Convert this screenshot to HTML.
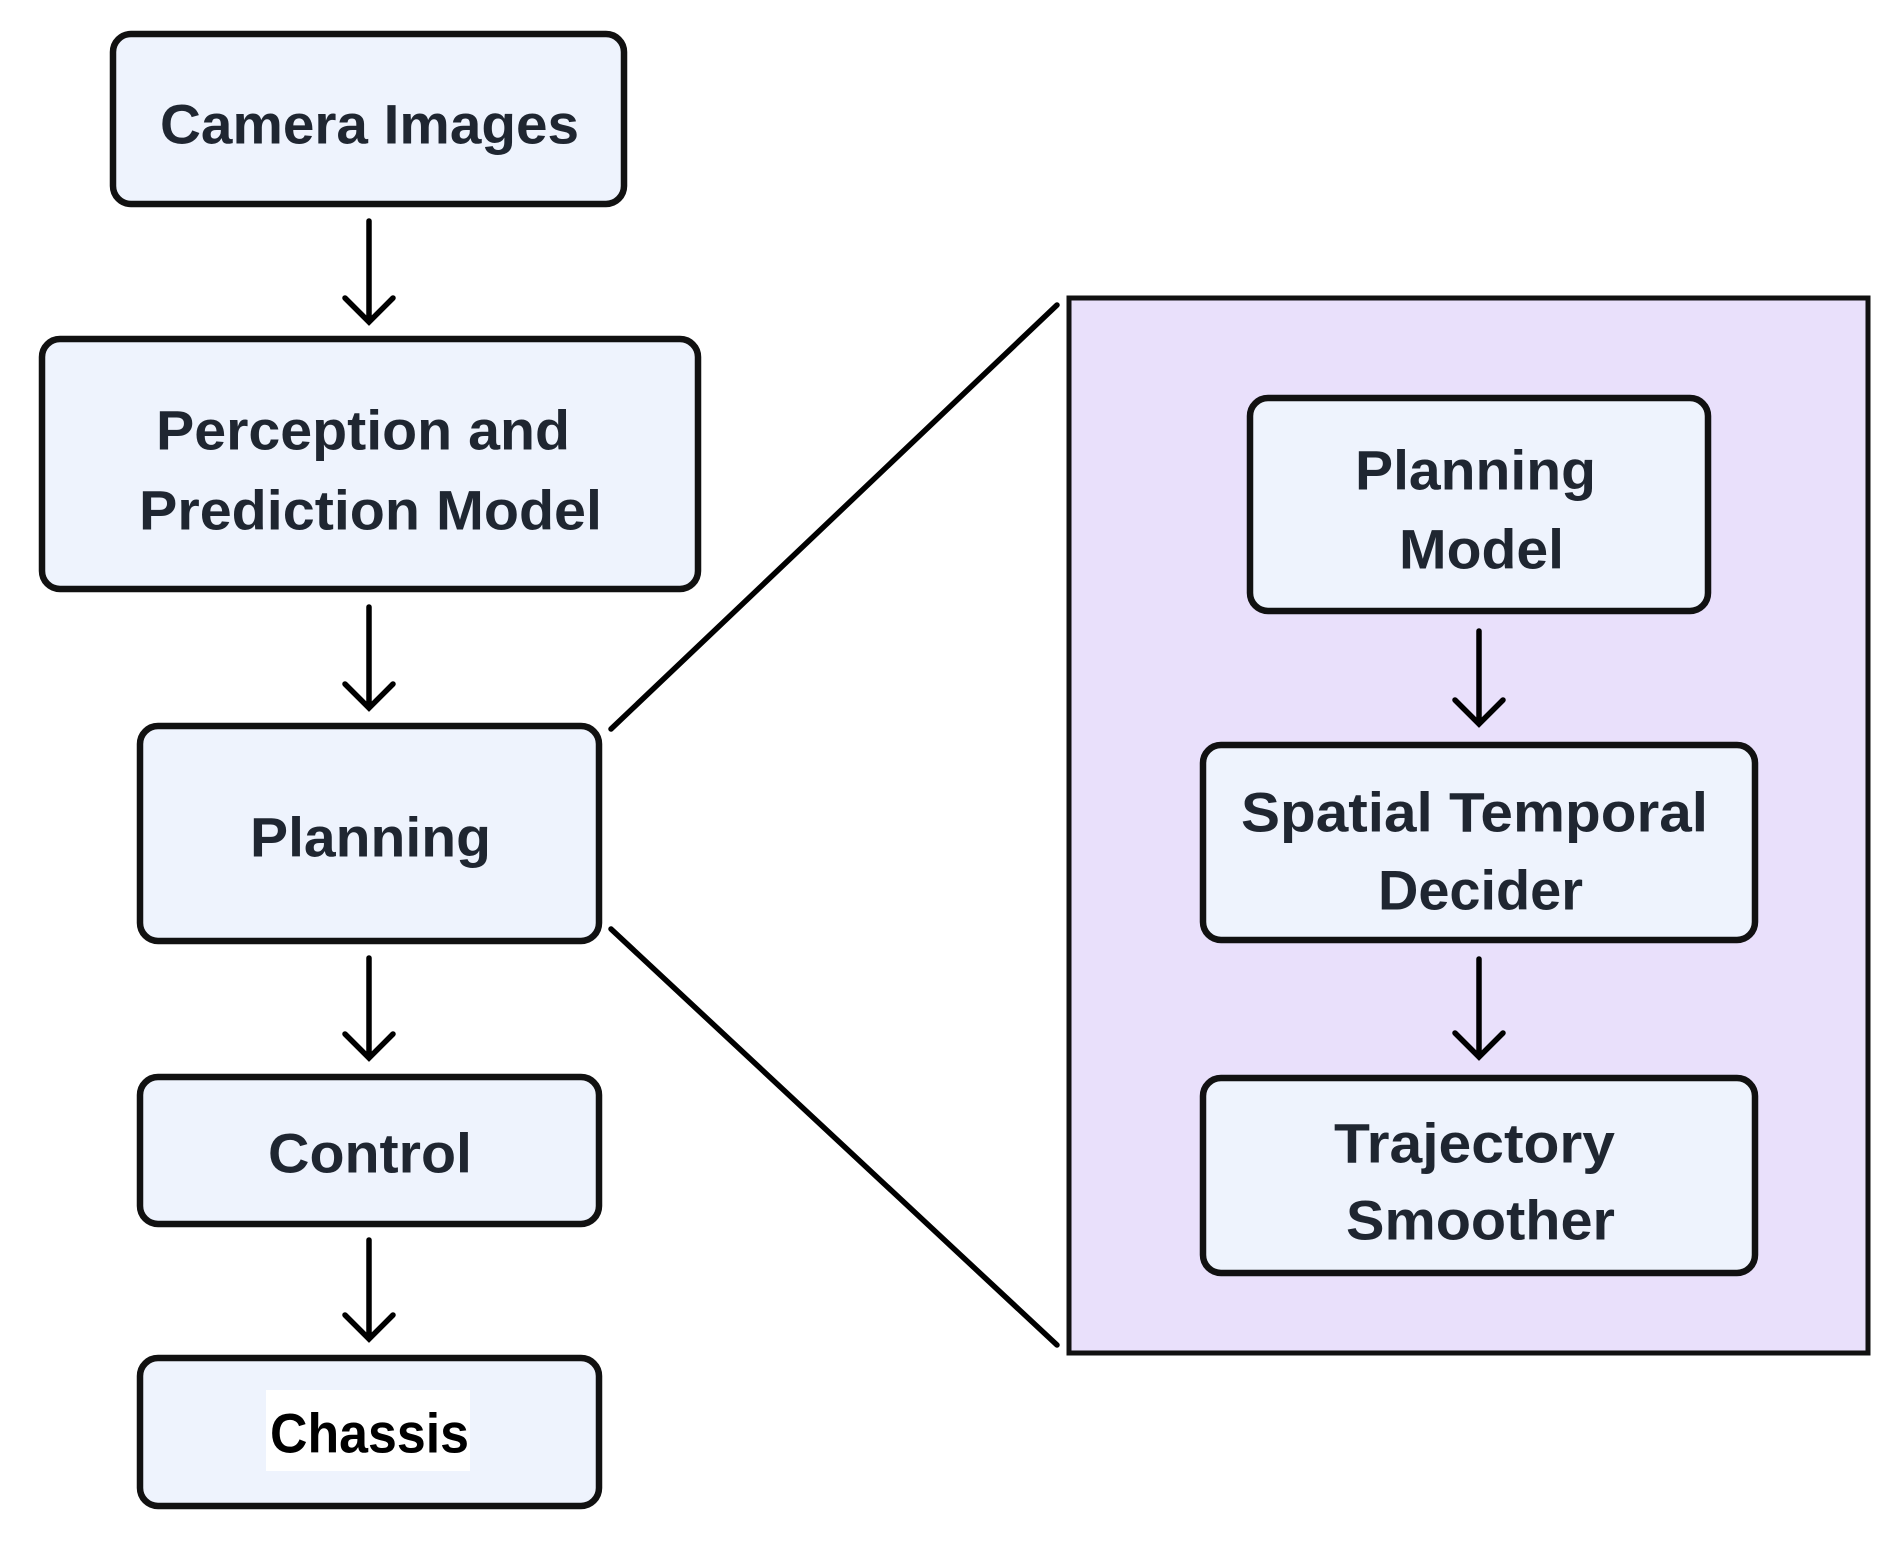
<!DOCTYPE html>
<html><head><meta charset="utf-8"><style>html,body{margin:0;padding:0;background:#fff}</style></head>
<body>
<svg width="1891" height="1539" viewBox="0 0 1891 1539" xmlns="http://www.w3.org/2000/svg">
<g font-family="Liberation Sans, sans-serif" font-weight="bold" font-size="56" fill="#1f2631">
<rect x="1069" y="298" width="799" height="1055" fill="#e9e0fb" stroke="#111" stroke-width="5"/>
<g stroke="#000" stroke-width="5.5" fill="none" stroke-linecap="round">
<line x1="611" y1="729" x2="1057" y2="305"/>
<line x1="611" y1="929" x2="1057" y2="1345"/>
<path d="M369 221V322M345 298L369 322L393 298"/>
<path d="M369 607V708M345 684L369 708L393 684"/>
<path d="M369 958V1058M345 1034L369 1058L393 1034"/>
<path d="M369 1240V1339M345 1315L369 1339L393 1315"/>
<path d="M1479 631V724M1455 700L1479 724L1503 700"/>
<path d="M1479 959V1057M1455 1033L1479 1057L1503 1033"/>
</g>
<g fill="#eef3fd" stroke="#111" stroke-width="6.5">
<rect x="113" y="34" width="511" height="170" rx="18"/>
<rect x="42" y="339" width="656" height="250" rx="18"/>
<rect x="140" y="726" width="459" height="215" rx="18"/>
<rect x="140" y="1077" width="459" height="147" rx="18"/>
<rect x="140" y="1358" width="459" height="148" rx="18"/>
<rect x="1250" y="398" width="458" height="213" rx="18"/>
<rect x="1203" y="745" width="552" height="195" rx="18"/>
<rect x="1203" y="1078" width="552" height="195" rx="18"/>
</g>
<rect x="266" y="1390" width="204" height="81" fill="#fff"/>
<g dominant-baseline="central">
<text x="160" y="124" textLength="419" lengthAdjust="spacingAndGlyphs">Camera Images</text>
<text x="156" y="430" textLength="414" lengthAdjust="spacingAndGlyphs">Perception and</text>
<text x="139" y="510" textLength="463" lengthAdjust="spacingAndGlyphs">Prediction Model</text>
<text x="250" y="837" textLength="241" lengthAdjust="spacingAndGlyphs">Planning</text>
<text x="268" y="1153" textLength="204" lengthAdjust="spacingAndGlyphs">Control</text>
<text x="270" y="1433" textLength="199" lengthAdjust="spacingAndGlyphs" fill="#000">Chassis</text>
<text x="1355" y="470" textLength="241" lengthAdjust="spacingAndGlyphs">Planning</text>
<text x="1399" y="549" textLength="165" lengthAdjust="spacingAndGlyphs">Model</text>
<text x="1241" y="812" textLength="467" lengthAdjust="spacingAndGlyphs">Spatial Temporal</text>
<text x="1378" y="890" textLength="205" lengthAdjust="spacingAndGlyphs">Decider</text>
<text x="1334" y="1143" textLength="281" lengthAdjust="spacingAndGlyphs">Trajectory</text>
<text x="1346" y="1220" textLength="269" lengthAdjust="spacingAndGlyphs">Smoother</text>
</g>
</g>
</svg>
</body></html>
